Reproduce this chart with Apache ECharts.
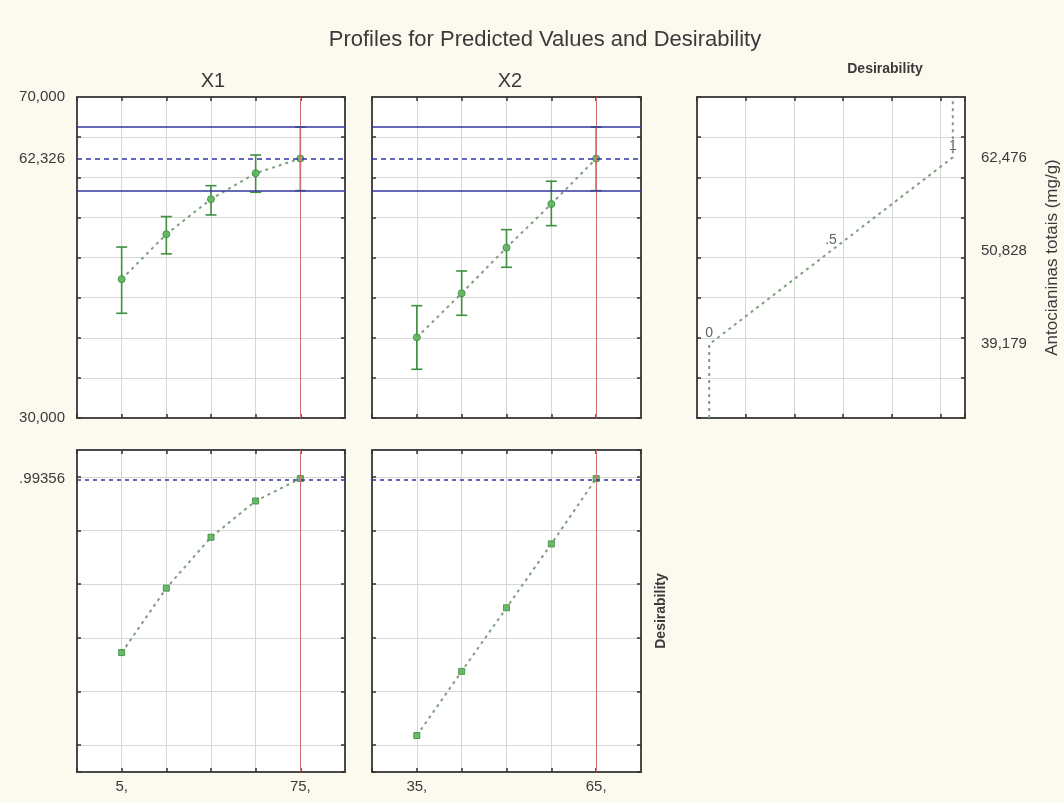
<!DOCTYPE html>
<html>
<head>
<meta charset="utf-8">
<script src="https://cdn.jsdelivr.net/npm/echarts@6/dist/echarts.min.js"></script>
<style>
html,body{margin:0;padding:0;background:#fcf9ef;}
#chart{width:1064px;height:803px;}
</style>
</head>
<body>
<div id="chart"></div>
<script>
// ---- data ----
const mainTitle = 'Profiles for Predicted Values and Desirability';
const factorNames = ['X1', 'X2'];
const responseName = 'Antocianinas totais (mg/g)';
const desirName = 'Desirability';

const x1Levels = [5, 22.5, 40, 57.5, 75];
const x2Levels = [35, 42.5, 50, 57.5, 65];
const x1TickLabels = [5, 75];
const x2TickLabels = [35, 65];

const x1Pred = [47300, 52900, 57270, 60500, 62326];
const x1Lo   = [43050, 50450, 55300, 58130, 58330];
const x1Hi   = [51300, 55100, 58950, 62770, 66250];

const x2Pred = [40050, 45540, 51230, 56670, 62326];
const x2Lo   = [36070, 42800, 48780, 53970, 58330];
const x2Hi   = [44000, 48320, 53470, 59500, 66250];

const x1Desir = [0.345, 0.585, 0.775, 0.91, 0.99356];
const x2Desir = [0.036, 0.275, 0.512, 0.75, 0.99356];

const currentX1 = 75;
const currentX2 = 65;
const predCurrent = 62326;
const ciLow = 58330;
const ciHigh = 66250;
const desirCurrent = 0.99356;

const responseTickLabels = [30000, 70000];

// desirability function (right panel)
const desirLevels = [0, 0.5, 1];
const desirLevelLabels = ['0', '.5', '1'];
const desirResponse = [39179, 50828, 62476];
const profileX = [0, 0, 0.5, 1, 1];
const profileY = [30000, 39179, 50828, 62476, 69600];

// ---- styling ----
const FONT = 'Liberation Sans, Arial, sans-serif';
const GREEN = '#3f8f3f';
const PT_GREEN = '#5fb55f';
const DASH_GREEN = '#7f9f7f';
const BLUE = '#3535a0';
const RED = '#d07070';
const GRID_LINE = '#d6d6d6';
const FRAME = '#4a4a4a';
const TXT = '#3a3a3a';

const fmt = v => Math.round(v).toLocaleString('en-US');

const grids = [
  {left: 77,  top: 97,  width: 268, height: 321},
  {left: 372, top: 97,  width: 269, height: 321},
  {left: 697, top: 97,  width: 268, height: 321},
  {left: 77,  top: 450, width: 268, height: 322},
  {left: 372, top: 450, width: 269, height: 322}
].map(g => Object.assign({show: true, backgroundColor: '#fff', borderWidth: 0}, g));

const lblStyle = {color: TXT, fontFamily: FONT, fontSize: 15};

// main axes: gridlines + data scale; frame axes: the opposite border with ticks
function mainAxis(extra) {
  return Object.assign({
    type: 'value', z: 2,
    axisLine: {show: true, onZero: false, lineStyle: {color: FRAME, width: 2}},
    axisTick: {show: true, inside: true, length: 4, lineStyle: {color: '#333', width: 1.5}},
    splitLine: {show: true, showMinLine: false, showMaxLine: false, lineStyle: {color: GRID_LINE, width: 1}},
    axisLabel: {show: false}
  }, extra);
}
function frameAxis(extra) {
  return Object.assign({
    type: 'value', z: 3,
    axisLine: {show: true, onZero: false, lineStyle: {color: FRAME, width: 2}},
    axisTick: {show: true, inside: true, length: 4, lineStyle: {color: '#333', width: 1.5}},
    splitLine: {show: false},
    axisLabel: {show: false}
  }, extra);
}

const x1Step = x1Levels[1] - x1Levels[0];
const x2Step = x2Levels[1] - x2Levels[0];
const x1Min = x1Levels[0] - x1Step, x1Max = x1Levels[x1Levels.length - 1] + x1Step;
const x2Min = x2Levels[0] - x2Step, x2Max = x2Levels[x2Levels.length - 1] + x2Step;

const xScale = [
  {min: x1Min, max: x1Max, interval: x1Step},
  {min: x2Min, max: x2Max, interval: x2Step},
  {min: -0.05, max: 1.05, interval: 0.2},
  {min: x1Min, max: x1Max, interval: x1Step},
  {min: x2Min, max: x2Max, interval: x2Step}
];
const yScale = [
  {min: 30000, max: 70000, interval: 5000},
  {min: 30000, max: 70000, interval: 5000},
  {min: 30000, max: 70000, interval: 5000},
  {min: -0.1, max: 1.1, splitNumber: 6},
  {min: -0.1, max: 1.1, splitNumber: 6}
];

const xAxes = xScale.map((s, i) => mainAxis(Object.assign({gridIndex: i, position: 'bottom'}, s)));
xAxes[3].axisLabel = Object.assign({show: true, customValues: x1TickLabels, formatter: v => v + ',', margin: 7}, lblStyle);
xAxes[4].axisLabel = Object.assign({show: true, customValues: x2TickLabels, formatter: v => v + ',', margin: 7}, lblStyle);
xScale.forEach((s, i) => xAxes.push(frameAxis(Object.assign({gridIndex: i, position: 'top'}, s))));

const yAxes = yScale.map((s, i) => mainAxis(Object.assign({gridIndex: i, position: i === 2 ? 'right' : 'left'}, s)));
yAxes[0].axisLabel = Object.assign({show: true, customValues: responseTickLabels.concat([predCurrent]), formatter: v => fmt(v), margin: 12}, lblStyle);
yAxes[2].axisLabel = Object.assign({show: true, customValues: desirResponse, formatter: v => fmt(v), margin: 16}, lblStyle);
yAxes[2].name = responseName;
yAxes[2].nameLocation = 'middle';
yAxes[2].nameRotate = 90;
yAxes[2].nameGap = 79;
yAxes[2].nameTextStyle = {color: TXT, fontFamily: FONT, fontSize: 17};
yAxes[3].axisLabel = Object.assign({show: true, customValues: [desirCurrent], formatter: v => String(v).replace(/^0/, ''), margin: 12}, lblStyle);
yScale.forEach((s, i) => yAxes.push(frameAxis(Object.assign({gridIndex: i, position: i === 2 ? 'left' : 'right'}, s))));
// bottom-middle frame axis carries the "Desirability" name
yAxes[9].name = desirName;
yAxes[9].nameLocation = 'middle';
yAxes[9].nameRotate = 90;
yAxes[9].nameGap = 13;
yAxes[9].nameTextStyle = {color: TXT, fontFamily: FONT, fontSize: 14, fontWeight: 'bold'};

function errorBars(idx, levels, lo, hi) {
  return {
    type: 'custom', xAxisIndex: idx, yAxisIndex: idx, silent: true, z: 3,
    data: levels.map((x, i) => [x, lo[i], hi[i]]),
    renderItem: function (params, api) {
      const x = api.value(0);
      const p1 = api.coord([x, api.value(1)]);
      const p2 = api.coord([x, api.value(2)]);
      const w = 5.5;
      const st = {stroke: GREEN, lineWidth: 1.6};
      return {type: 'group', children: [
        {type: 'line', shape: {x1: p1[0], y1: p1[1], x2: p2[0], y2: p2[1]}, style: st},
        {type: 'line', shape: {x1: p1[0] - w, y1: p1[1], x2: p1[0] + w, y2: p1[1]}, style: st},
        {type: 'line', shape: {x1: p2[0] - w, y1: p2[1], x2: p2[0] + w, y2: p2[1]}, style: st}
      ]};
    }
  };
}

function profileLine(idx, levels, vals, symbol, marks) {
  return {
    type: 'line', xAxisIndex: idx, yAxisIndex: idx, z: 4, silent: true,
    data: levels.map((x, i) => [x, vals[i]]),
    symbol: symbol, symbolSize: symbol === 'circle' ? 7 : 6, showSymbol: true,
    itemStyle: {color: PT_GREEN, borderColor: GREEN, borderWidth: 1, opacity: 0.9},
    lineStyle: {color: DASH_GREEN, width: 2, type: [3, 4]},
    markLine: {silent: true, symbol: 'none', label: {show: false}, animation: false, data: marks}
  };
}

function topMarks(cur) {
  return [
    {xAxis: cur, lineStyle: {color: RED, width: 1, type: 'solid'}},
    {yAxis: ciHigh, lineStyle: {color: BLUE, width: 1.5, type: 'solid'}},
    {yAxis: ciLow, lineStyle: {color: BLUE, width: 1.5, type: 'solid'}},
    {yAxis: predCurrent, lineStyle: {color: BLUE, width: 1.5, type: [5, 4]}}
  ];
}
function bottomMarks(cur) {
  return [
    {xAxis: cur, lineStyle: {color: RED, width: 1, type: 'solid'}},
    {yAxis: desirCurrent, lineStyle: {color: BLUE, width: 1.5, type: [4, 4]}}
  ];
}

const series = [
  errorBars(0, x1Levels, x1Lo, x1Hi),
  profileLine(0, x1Levels, x1Pred, 'circle', topMarks(currentX1)),
  errorBars(1, x2Levels, x2Lo, x2Hi),
  profileLine(1, x2Levels, x2Pred, 'circle', topMarks(currentX2)),
  {
    type: 'line', xAxisIndex: 2, yAxisIndex: 2, silent: true, symbol: 'none',
    data: profileX.map((x, i) => [x, profileY[i]]),
    lineStyle: {color: DASH_GREEN, width: 2, type: [3, 4]}
  },
  {
    type: 'scatter', xAxisIndex: 2, yAxisIndex: 2, silent: true, symbolSize: 0,
    data: desirLevels.map((d, i) => ({value: [d, desirResponse[i]], name: desirLevelLabels[i]})),
    label: {show: true, position: 'top', distance: 4, formatter: p => p.name,
      color: TXT, fontFamily: FONT, fontSize: 14}
  },
  profileLine(3, x1Levels, x1Desir, 'rect', bottomMarks(currentX1)),
  profileLine(4, x2Levels, x2Desir, 'rect', bottomMarks(currentX2))
];

const titleStyle = {color: TXT, fontFamily: FONT, fontWeight: 'normal'};
const option = {
  backgroundColor: '#fcf9ef',
  animation: false,
  title: [
    {text: mainTitle, left: 540, top: 24, textAlign: 'center', textStyle: Object.assign({fontSize: 22}, titleStyle)},
    {text: factorNames[0], left: 208, top: 66, textAlign: 'center', textStyle: Object.assign({fontSize: 20}, titleStyle)},
    {text: factorNames[1], left: 505, top: 66, textAlign: 'center', textStyle: Object.assign({fontSize: 20}, titleStyle)},
    {text: desirName, left: 880, top: 57, textAlign: 'center', textStyle: {color: TXT, fontFamily: FONT, fontSize: 14, fontWeight: 'bold'}}
  ],
  grid: grids,
  xAxis: xAxes,
  yAxis: yAxes,
  series: series
};

const chart = echarts.init(document.getElementById('chart'), null, {renderer: 'canvas'});
chart.setOption(option);
</script>
</body>
</html>
